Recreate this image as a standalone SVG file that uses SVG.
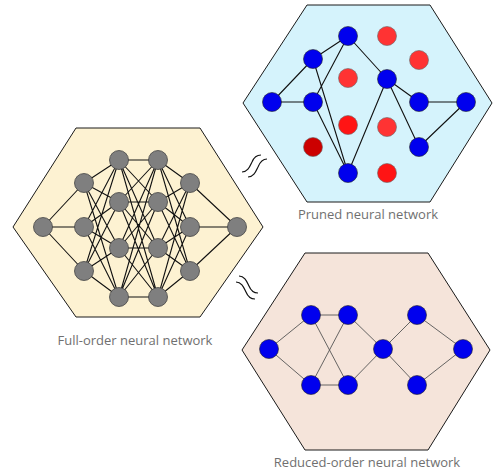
<svg xmlns="http://www.w3.org/2000/svg" width="497" height="473" viewBox="0 0 497 473">
<style>
.hex{stroke:#1a1a1a;stroke-width:1}
.e{stroke:#111;stroke-width:1.1;fill:none}
.e2{stroke:#555;stroke-width:0.9;fill:none}
.g{fill:#7f7f7f;stroke:#444;stroke-width:0.8}
.b{fill:#0000ee;stroke:#222;stroke-width:0.6}
.r{fill:#ff3333;stroke:#666;stroke-width:0.6}
.r2{fill:#ff1414;stroke:#666;stroke-width:0.6}
.rd{fill:#cc0000;stroke:#666;stroke-width:0.6}
.lbl{font-family:"Open Sans","Noto Sans",sans-serif;font-size:13px;fill:#707070;text-anchor:middle}
.sq{stroke:#111;stroke-width:1.2;fill:none}
</style>
<g id="full">
<polygon class="hex" fill="#fdf2d2" points="76,128 200,128 263,227 200,317 76,317 13,227"/>
<g id="full-edges">
<path class="e" d="M43,227L84,183M43,227L84,227M43,227L84,271
M84,183L119,160M84,183L119,202M84,183L119,248M84,183L119,297
M84,227L119,160M84,227L119,202M84,227L119,248M84,227L119,297
M84,271L119,160M84,271L119,202M84,271L119,248M84,271L119,297
M119,160L158,160M119,160L158,202M119,160L158,248M119,160L158,297
M119,202L158,160M119,202L158,202M119,202L158,248M119,202L158,297
M119,248L158,160M119,248L158,202M119,248L158,248M119,248L158,297
M119,297L158,160M119,297L158,202M119,297L158,248M119,297L158,297
M158,160L190,183M158,160L190,227M158,160L190,271
M158,202L190,183M158,202L190,227M158,202L190,271
M158,248L190,183M158,248L190,227M158,248L190,271
M158,297L190,183M158,297L190,227M158,297L190,271
M190,183L237,227M190,227L237,227M190,271L237,227"/>
</g>
<circle class="g" cx="43" cy="227" r="9.5"/>
<circle class="g" cx="84" cy="183" r="9.5"/>
<circle class="g" cx="84" cy="227" r="9.5"/>
<circle class="g" cx="84" cy="271" r="9.5"/>
<circle class="g" cx="119" cy="160" r="9.5"/>
<circle class="g" cx="119" cy="202" r="9.5"/>
<circle class="g" cx="119" cy="248" r="9.5"/>
<circle class="g" cx="119" cy="297" r="9.5"/>
<circle class="g" cx="158" cy="160" r="9.5"/>
<circle class="g" cx="158" cy="202" r="9.5"/>
<circle class="g" cx="158" cy="248" r="9.5"/>
<circle class="g" cx="158" cy="297" r="9.5"/>
<circle class="g" cx="190" cy="183" r="9.5"/>
<circle class="g" cx="190" cy="227" r="9.5"/>
<circle class="g" cx="190" cy="271" r="9.5"/>
<circle class="g" cx="237" cy="227" r="9.5"/>
<text class="lbl" x="135" y="345">Full-order neural network</text>
</g>
<g id="pruned">
<polygon class="hex" fill="#d5f3fc" points="307,5 430,5 492,103 430,202 307,202 243,103"/>
<g id="pruned-edges">
<path class="e" d="M272,102L313,59M272,102L313,102
M313,59L348,36M313,59L348,173M313,102L348,36M313,102L348,173
M348,36L387,79M348,173L387,79
M387,79L419,102M387,79L419,147
M419,102L466,102M419,147L466,102"/>
</g>
<circle class="b" cx="272" cy="102" r="9.5"/>
<circle class="b" cx="313" cy="59" r="9.5"/>
<circle class="b" cx="313" cy="102" r="9.5"/>
<circle class="rd" cx="313" cy="147" r="9.5"/>
<circle class="b" cx="348" cy="36" r="9.5"/>
<circle class="r" cx="348" cy="78" r="9.5"/>
<circle class="r2" cx="348" cy="125" r="9.5"/>
<circle class="b" cx="348" cy="173" r="9.5"/>
<circle class="r" cx="387" cy="36" r="9.5"/>
<circle class="b" cx="387" cy="79" r="9.5"/>
<circle class="r" cx="387" cy="127" r="9.5"/>
<circle class="r2" cx="387" cy="173" r="9.5"/>
<circle class="r" cx="419" cy="60" r="9.5"/>
<circle class="b" cx="419" cy="102" r="9.5"/>
<circle class="b" cx="419" cy="147" r="9.5"/>
<circle class="b" cx="466" cy="102" r="9.5"/>
<text class="lbl" x="368" y="219">Pruned neural network</text>
</g>
<g id="reduced">
<polygon class="hex" fill="#f5e4da" points="305,253 428,253 490,350 428,450 305,450 242,350"/>
<g id="reduced-edges">
<path class="e2" d="M269,349L311,315M269,349L311,385
M311,315L348,315M311,315L348,385M311,385L348,315M311,385L348,385
M348,315L383,349M348,385L383,349
M383,349L417,315M383,349L417,385
M417,315L463,349M417,385L463,349"/>
</g>
<circle class="b" cx="269" cy="349" r="9.5"/>
<circle class="b" cx="311" cy="315" r="9.5"/>
<circle class="b" cx="311" cy="385" r="9.5"/>
<circle class="b" cx="348" cy="315" r="9.5"/>
<circle class="b" cx="348" cy="385" r="9.5"/>
<circle class="b" cx="383" cy="349" r="9.5"/>
<circle class="b" cx="417" cy="315" r="9.5"/>
<circle class="b" cx="417" cy="385" r="9.5"/>
<circle class="b" cx="463" cy="349" r="9.5"/>
<text class="lbl" x="367" y="467">Reduced-order neural network</text>
</g>
<g id="connectors">
<path class="sq" d="M242,172C248,172 250,166 252,162C254,157 257,155 261,155"/>
<path class="sq" d="M248,177C254,177 256,171 258,167C260,162 263,159 267,159"/>
<path class="sq" d="M239,276C245,276 247,282 249,286C251,291 254,293 258,293"/>
<path class="sq" d="M236,282C242,282 244,288 246,292C248,297 251,299 255,299"/>
</g>
</svg>
